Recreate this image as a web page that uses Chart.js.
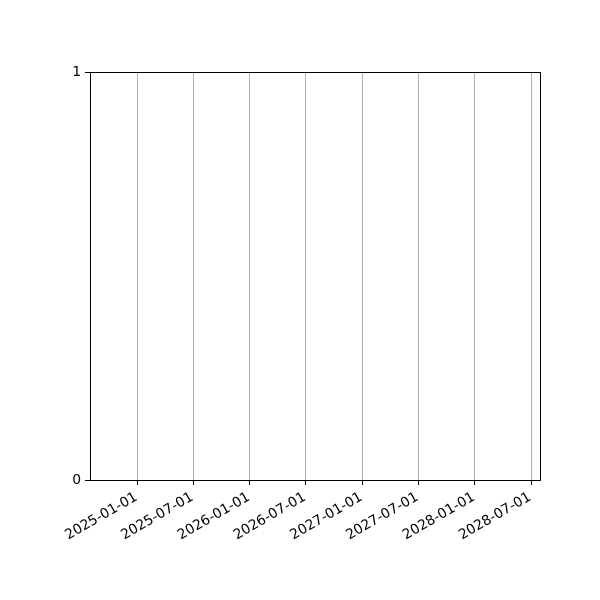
<!DOCTYPE html>
<html>
<head>
<meta charset="utf-8">
<script src="https://cdn.jsdelivr.net/npm/chart.js@4/dist/chart.umd.min.js"></script>
<style>
  html, body { margin: 0; padding: 0; background: #fff; }
  #chart { display: block; }
</style>
</head>
<body>
<canvas id="chart" width="600" height="600"></canvas>
<script>
'use strict';

// ─── Data ────────────────────────────────────────────────────────────────────
// The reference plot has no points: empty series on a date axis.
const seriesDates  = [];
const seriesValues = [];

// Axis range and tick labels
const xRange     = ['2024-07-31', '2028-07-30'];
const xTickDates = ['2025-01-01', '2025-07-01', '2026-01-01', '2026-07-01',
                    '2027-01-01', '2027-07-01', '2028-01-01', '2028-07-01'];
const yTicks     = [0, 1];

// ─── Helpers ─────────────────────────────────────────────────────────────────
const DAY_MS = 86400000;
const toDay = (iso) => Date.parse(iso + 'T00:00:00Z') / DAY_MS;
const fromDay = (d) => new Date(Math.round(d) * DAY_MS).toISOString().slice(0, 10);

// Draws the top and right spines (Chart.js only draws the axis borders)
const frameBox = {
  id: 'frameBox',
  afterDraw(chart) {
    const { ctx, chartArea: a } = chart;
    ctx.save();
    ctx.strokeStyle = '#000';
    ctx.lineWidth = 1;
    ctx.strokeRect(Math.round(a.left) + 0.5, Math.round(a.top) + 0.5,
                   Math.round(a.right - a.left), Math.round(a.bottom - a.top));
    ctx.restore();
  },
};

const FONT = { family: 'DejaVu Sans', size: 13.9 };

new Chart(document.getElementById('chart').getContext('2d'), {
  type: 'line',
  data: {
    datasets: [{
      data: seriesDates.map((d, i) => ({ x: toDay(d), y: seriesValues[i] })),
      borderColor: '#1f77b4',
      pointRadius: 0,
    }],
  },
  options: {
    responsive: false,
    animation: false,
    devicePixelRatio: 1,
    layout: { padding: { top: 72, right: 60, left: 0, bottom: 0 } },
    plugins: {
      legend:  { display: false },
      tooltip: { enabled: false },
    },
    scales: {
      x: {
        type: 'linear',
        min: toDay(xRange[0]),
        max: toDay(xRange[1]),
        afterBuildTicks: (scale) => {
          scale.ticks = xTickDates.map((d) => ({ value: toDay(d) }));
        },
        afterFit: (scale) => { scale.height = 120; },
        grid: {
          color: '#b0b0b0',
          lineWidth: 1,
          tickColor: '#000',
          tickLength: 5,
        },
        border: { color: '#000', width: 1 },
        ticks: {
          autoSkip: false,
          minRotation: 30,
          maxRotation: 30,
          padding: 4,
          labelOffset: -1,
          color: '#000',
          font: FONT,
          callback: (v) => fromDay(v),
        },
      },
      y: {
        min: yTicks[0],
        max: yTicks[yTicks.length - 1],
        afterBuildTicks: (scale) => {
          scale.ticks = yTicks.map((v) => ({ value: v }));
        },
        afterFit: (scale) => { scale.width = 90; },
        grid: {
          drawOnChartArea: false,
          tickColor: '#000',
          tickLength: 5,
        },
        border: { color: '#000', width: 1 },
        ticks: {
          padding: 4,
          color: '#000',
          font: FONT,
          callback: (v) => String(v),
        },
      },
    },
  },
  plugins: [frameBox],
});
</script>
</body>
</html>
